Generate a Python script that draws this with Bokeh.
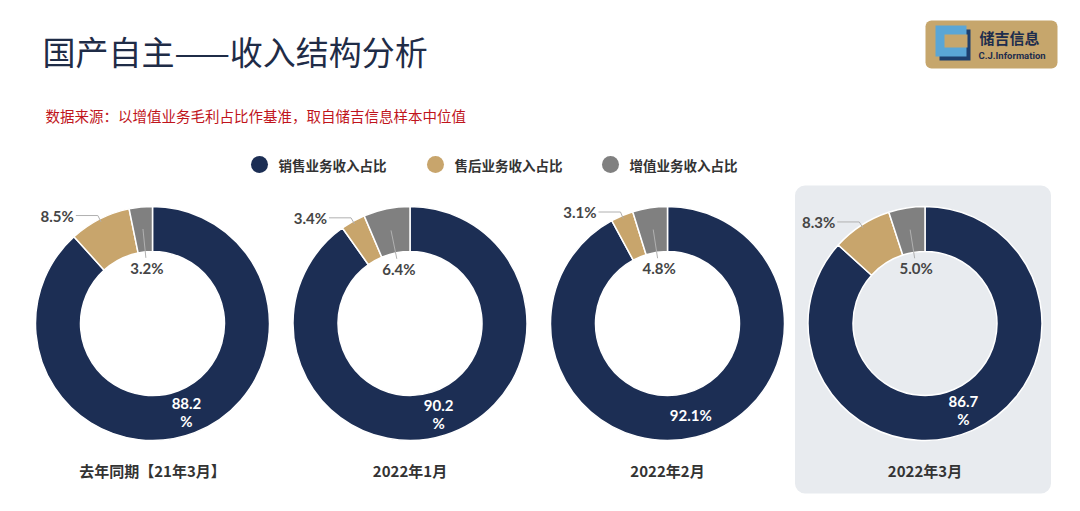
import math
from bokeh.plotting import figure
from bokeh.models import BoxAnnotation, Range1d
from bokeh.core.properties import value
from bokeh.embed import file_html
from bokeh.resources import INLINE

# ---------------- data ----------------
periods = ["去年同期【21年3月】", "2022年1月", "2022年2月", "2022年3月"]
sales_share = [88.2, 90.2, 92.1, 86.7]       # 销售业务收入占比
aftersales_share = [8.5, 3.4, 3.1, 8.3]      # 售后业务收入占比
value_added_share = [3.2, 6.4, 4.8, 5.0]     # 增值业务收入占比
sales_labels = ["88.2\n%", "90.2\n%", "92.1%", "86.7\n%"]
series_names = ["销售业务收入占比", "售后业务收入占比", "增值业务收入占比"]
series_colors = ["#1c2e54", "#c8a56c", "#808080"]

title_text = "国产自主——收入结构分析"
subtitle_text = "数据来源：以增值业务毛利占比作基准，取自储吉信息样本中位值"

# ---------------- layout ----------------
W, H = 1080, 511
FONT = "Noto Sans CJK SC"
NUMFONT = "Lato"


def Y(py):
    return H - py


p = figure(width=W, height=H, x_range=Range1d(0, W), y_range=Range1d(0, H),
           output_backend="svg", toolbar_location=None, min_border=0,
           x_axis_type=None, y_axis_type=None)
p.grid.visible = False
p.outline_line_color = None
p.background_fill_color = "white"
p.border_fill_color = "white"

centers_x = [152 + 257.5 * i for i in range(len(periods))]
cy = Y(323)
r_out, r_in = 117, 72

# highlight panel for latest month
hx = centers_x[-1]
p.add_layout(BoxAnnotation(left=hx - 130, right=hx + 126, top=Y(185), bottom=Y(493),
                           fill_color="#e8ebef", fill_alpha=1.0, line_color=None,
                           border_radius=10, level="underlay"))

# title & subtitle
p.text(x=[42], y=[Y(50)], text=[title_text], text_font=value(FONT),
       text_font_size="33px", text_color="#1f2c47", text_baseline="middle")
p.text(x=[45], y=[Y(115)], text=[subtitle_text], text_font=value(FONT),
       text_font_size="14.5px", text_color="#c0141b", text_baseline="middle")

# logo
p.add_layout(BoxAnnotation(left=925, right=1057, top=Y(20), bottom=Y(68),
                           fill_color="#c6a66c", fill_alpha=1.0, line_color=None,
                           border_radius=6, level="underlay"))
p.quad(left=[939], right=[970], top=[Y(29)], bottom=[Y(60)], fill_color="#1d3f6e", line_color=None)
p.quad(left=[935], right=[966], top=[Y(25)], bottom=[Y(56)], fill_color="#5aa6d6", line_color=None)
p.quad(left=[944], right=[967], top=[Y(34)], bottom=[Y(47)], fill_color="#c6a66c", line_color=None)
p.text(x=[979], y=[Y(37)], text=["储吉信息"], text_font=value(FONT), text_font_style="bold",
       text_font_size="15px", text_color="#1d2d4d", text_baseline="middle")
p.text(x=[978], y=[Y(55)], text=["C.J.Information"], text_font=value("Roboto"), text_font_style="bold",
       text_font_size="9.5px", text_color="#1d2d4d", text_baseline="middle")

# legend
leg_x = [259, 435, 610]
for lx, name, col in zip(leg_x, series_names, series_colors):
    p.scatter(x=[lx], y=[Y(164)], size=17, marker="circle", fill_color=col, line_color=None)
    p.text(x=[lx + 19], y=[Y(164)], text=[name], text_font=value(FONT), text_font_style="bold",
           text_font_size="13.5px", text_color="#333333", text_baseline="middle")

# donuts
for i, cx in enumerate(centers_x):
    vals = [sales_share[i], aftersales_share[i], value_added_share[i]]
    tot = sum(vals)
    cum = 0.0
    mids = []
    for v, col in zip(vals, series_colors):
        a0 = math.pi / 2 - 2 * math.pi * cum / tot
        cum += v
        a1 = math.pi / 2 - 2 * math.pi * cum / tot
        mids.append((a0 + a1) / 2)
        p.annular_wedge(x=[cx], y=[cy], inner_radius=r_in, outer_radius=r_out,
                        start_angle=[a0], end_angle=[a1], direction="clock",
                        fill_color=col, line_color="white", line_width=1.5)

    # sales label (inside ring, white)
    m = mids[0]
    rr = (r_in + r_out) / 2
    p.text(x=[cx + rr * math.cos(m)], y=[cy + rr * math.sin(m)], text=[sales_labels[i]],
           text_font=value(NUMFONT), text_font_style="bold", text_font_size="15px", text_color="white",
           text_align="center", text_baseline="middle", text_line_height=1.0)

    # after-sales label (outside, with leader)
    m = mids[1]
    px0, py0 = cx + (r_out - 3) * math.cos(m), cy + (r_out - 3) * math.sin(m)
    ex, ey = cx + (r_out + 4) * math.cos(m), cy + (r_out + 4) * math.sin(m)
    hx2 = ex - 22
    p.line(x=[px0, ex, hx2], y=[py0, ey, ey], line_color="#b0b0b0", line_width=1)
    p.text(x=[hx2 - 2], y=[ey], text=[f"{aftersales_share[i]:.1f}%"],
           text_font=value(NUMFONT), text_font_style="bold", text_font_size="15px", text_color="#454545",
           text_align="right", text_baseline="middle")

    # value-added label (inside hole, with leader)
    m = mids[2]
    p.line(x=[cx + 95 * math.cos(m), cx + 66 * math.cos(m)],
           y=[cy + 95 * math.sin(m), cy + 66 * math.sin(m)],
           line_color="#b0b0b0", line_width=1)
    p.text(x=[cx + 56 * math.cos(m)], y=[cy + 56 * math.sin(m)],
           text=[f"{value_added_share[i]:.1f}%"],
           text_font=value(NUMFONT), text_font_style="bold", text_font_size="15px", text_color="#454545",
           text_align="center", text_baseline="middle")

    # period label
    p.text(x=[cx], y=[Y(470)], text=[periods[i]], text_font=value(FONT), text_font_style="bold",
           text_font_size="15px", text_color="#333333", text_align="center", text_baseline="middle")

open("out.html", "w").write(file_html(p, INLINE))
